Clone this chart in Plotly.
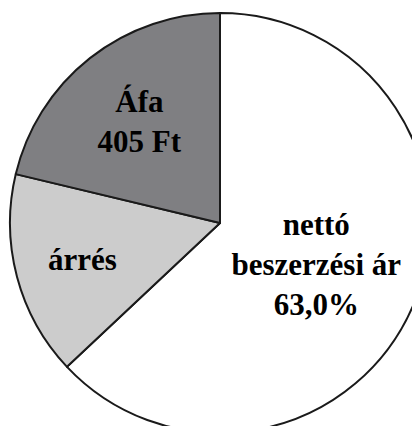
import plotly.graph_objects as go

labels = ["nettó beszerzési ár", "árrés", "Áfa"]
values = [1200, 300, 405]  # Ft
slice_text = ["<b>nettó<br>beszerzési ár<br>63,0%</b>", "<b>árrés</b>", "<b>Áfa<br>405 Ft</b>"]
colors = ["#ffffff", "#cccccc", "#7f7f82"]

W, H = 430, 440
fig = go.Figure(go.Pie(
    labels=labels,
    values=values,
    text=slice_text,
    textinfo="text",
    textposition="inside",
    insidetextorientation="horizontal",
    sort=False,
    direction="clockwise",
    rotation=0,
    marker=dict(colors=colors, line=dict(color="#1a1a1a", width=2)),
    textfont=dict(family="Liberation Serif", size=31, color="#000000"),
    domain=dict(x=[2 / W, 422 / W], y=[15 / H, 435 / H]),
    showlegend=False,
    hoverinfo="label+value",
))
fig.update_layout(
    width=W, height=H,
    margin=dict(l=0, r=0, t=0, b=0),
    paper_bgcolor="white",
    uniformtext=dict(minsize=31, mode="show"),
)
fig.write_html("out.html")
